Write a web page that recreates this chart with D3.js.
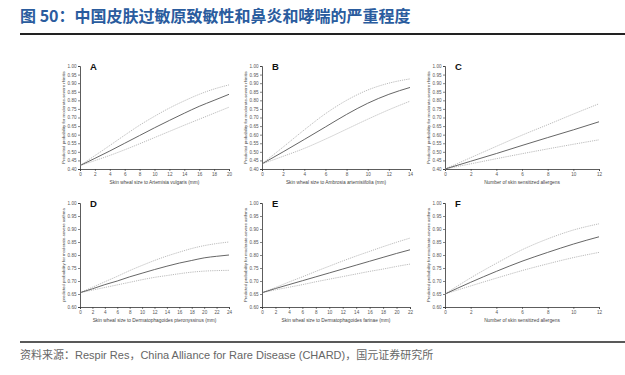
<!DOCTYPE html>
<html>
<head>
<meta charset="utf-8">
<script src="https://cdn.jsdelivr.net/npm/d3@7"></script>
<style>
  body { margin: 0; background: #fff; }
  svg { display: block; }
</style>
</head>
<body>
<div id="chart"></div>
<script>
// 标题与来源
const titleText = "图 50：中国皮肤过敏原致敏性和鼻炎和哮喘的严重程度";
const sourceText = "资料来源：Respir Res，China Alliance for Rare Disease (CHARD)，国元证券研究所";

// 各子图的 x 值
const xA = [0, 2, 4, 6, 8, 10, 12, 14, 16, 18, 20];
const xB = [0, 2, 4, 6, 8, 10, 12, 14];
const xC = [0, 2, 4, 6, 8, 10, 12];
const xD = [0, 2, 4, 6, 8, 10, 12, 14, 16, 18, 20, 22, 24];
const xE = [0, 2, 4, 6, 8, 10, 12, 14, 16, 18, 20, 22];
const xF = [0, 2, 4, 6, 8, 10, 12];

// 预测概率（中线 / 上限 / 下限）
const meanA = [0.42, 0.462, 0.505, 0.55, 0.595, 0.64, 0.683, 0.725, 0.765, 0.80, 0.835];
const upA   = [0.42, 0.478, 0.537, 0.597, 0.655, 0.707, 0.755, 0.797, 0.835, 0.866, 0.89];
const loA   = [0.42, 0.449, 0.479, 0.512, 0.547, 0.583, 0.619, 0.655, 0.69, 0.725, 0.76];

const meanB = [0.43, 0.50, 0.572, 0.645, 0.718, 0.783, 0.835, 0.875];
const upB   = [0.43, 0.528, 0.628, 0.722, 0.80, 0.86, 0.90, 0.925];
const loB   = [0.43, 0.474, 0.52, 0.574, 0.632, 0.69, 0.745, 0.795];

const meanC = [0.40, 0.445, 0.49, 0.537, 0.583, 0.628, 0.675];
const upC   = [0.40, 0.466, 0.532, 0.597, 0.658, 0.72, 0.78];
const loC   = [0.40, 0.43, 0.46, 0.489, 0.517, 0.544, 0.57];

const meanD = [0.655, 0.67, 0.686, 0.70, 0.716, 0.73, 0.744, 0.757, 0.769, 0.779, 0.789, 0.795, 0.80];
const upD   = [0.655, 0.676, 0.697, 0.718, 0.74, 0.76, 0.779, 0.796, 0.811, 0.825, 0.836, 0.844, 0.85];
const loD   = [0.655, 0.665, 0.675, 0.685, 0.695, 0.705, 0.714, 0.721, 0.728, 0.734, 0.738, 0.74, 0.741];

const meanE = [0.655, 0.671, 0.686, 0.701, 0.716, 0.731, 0.746, 0.761, 0.776, 0.791, 0.806, 0.82];
const upE   = [0.655, 0.675, 0.696, 0.716, 0.737, 0.757, 0.777, 0.796, 0.814, 0.832, 0.849, 0.865];
const loE   = [0.655, 0.666, 0.676, 0.686, 0.697, 0.707, 0.717, 0.727, 0.737, 0.746, 0.756, 0.765];

const meanF = [0.65, 0.695, 0.737, 0.776, 0.81, 0.842, 0.87];
const upF   = [0.65, 0.712, 0.768, 0.82, 0.862, 0.896, 0.92];
const loF   = [0.65, 0.681, 0.711, 0.74, 0.766, 0.79, 0.81];

// 轴标签
const xTitles = [
  "Skin wheal size to Artemisia vulgaris (mm)",
  "Skin wheal size to Ambrosia artemisiifolia (mm)",
  "Number of skin sensitized allergens",
  "Skin wheal size to Dermatophagoides pteronyssinus (mm)",
  "Skin wheal size to Dermatophagoides farinae (mm)",
  "Number of skin sensitized allergens"
];
const yTitles = [
  "Predicted probability for moderate-severe rhinitis",
  "Predicted probability for moderate-severe rhinitis",
  "Predicted probability for moderate-severe rhinitis",
  "predicted probability for moderate-severe asthma",
  "Predicted probability for moderate-severe asthma",
  "Predicted probability for moderate-severe asthma"
];
const panelLetters = ["A", "B", "C", "D", "E", "F"];
const yDomainTop = [0.40, 1.00];
const yDomainBottom = [0.60, 1.00];

const panels = [
  { x: xA, mean: meanA, up: upA, lo: loA, xMax: 20, yDom: yDomainTop },
  { x: xB, mean: meanB, up: upB, lo: loB, xMax: 14, yDom: yDomainTop },
  { x: xC, mean: meanC, up: upC, lo: loC, xMax: 12, yDom: yDomainTop },
  { x: xD, mean: meanD, up: upD, lo: loD, xMax: 24, yDom: yDomainBottom },
  { x: xE, mean: meanE, up: upE, lo: loE, xMax: 22, yDom: yDomainBottom },
  { x: xF, mean: meanF, up: upF, lo: loF, xMax: 12, yDom: yDomainBottom }
];

const width = 625, height = 375;
const svg = d3.select("#chart").append("svg")
  .attr("width", width)
  .attr("height", height);

// 标题
svg.append("text")
  .attr("x", 20).attr("y", 22)
  .attr("font-family", "'Noto Sans CJK SC', sans-serif")
  .attr("font-size", 16)
  .attr("font-weight", "bold")
  .attr("fill", "#2a5c9e")
  .text(titleText);
svg.append("line")
  .attr("x1", 20).attr("x2", width).attr("y1", 34).attr("y2", 34)
  .attr("stroke", "#222").attr("stroke-width", 2);

// 子图位置
const cols = [[80, 229], [262, 410], [445, 599]];
const rows = [[66, 169], [203, 307]];

panels.forEach((p, i) => {
  const [x0, x1] = cols[i % 3];
  const [y0, y1] = rows[Math.floor(i / 3)];
  const xScale = d3.scaleLinear().domain([0, p.xMax]).range([x0, x1]);
  const yScale = d3.scaleLinear().domain(p.yDom).range([y1, y0]);
  const g = svg.append("g");

  const yTicks = d3.range(Math.round(p.yDom[0] * 100), 101, 5).map(v => v / 100);
  const xTicks = d3.range(0, p.xMax + 1, 2);

  const yAxis = g.append("g").attr("transform", `translate(${x0},0)`)
    .call(d3.axisLeft(yScale).tickValues(yTicks).tickFormat(d3.format(".2f")).tickSize(2).tickPadding(1.5));
  const xAxis = g.append("g").attr("transform", `translate(0,${y1})`)
    .call(d3.axisBottom(xScale).tickValues(xTicks).tickFormat(d3.format("d")).tickSize(2).tickPadding(1.5));
  [yAxis, xAxis].forEach(ax => {
    ax.selectAll("path").attr("stroke", "#333").attr("stroke-width", 0.8);
    ax.selectAll("line").attr("stroke", "#333").attr("stroke-width", 0.6);
    ax.selectAll("text")
      .attr("font-family", "Arial, 'Liberation Sans', sans-serif")
      .attr("font-size", 4.6)
      .attr("fill", "#555");
  });

  // 轴标题
  g.append("text")
    .attr("x", (x0 + x1) / 2).attr("y", y1 + 15)
    .attr("text-anchor", "middle")
    .attr("font-family", "Arial, 'Liberation Sans', sans-serif")
    .attr("font-size", 4.8).attr("fill", "#444")
    .text(xTitles[i]);
  g.append("text")
    .attr("transform", `translate(${x0 - 15},${(y0 + y1) / 2}) rotate(-90)`)
    .attr("text-anchor", "middle")
    .attr("font-family", "Arial, 'Liberation Sans', sans-serif")
    .attr("font-size", 4.3).attr("fill", "#444")
    .text(yTitles[i]);

  g.append("text")
    .attr("x", x0 + 10).attr("y", y0 + 4)
    .attr("font-family", "Arial, 'Liberation Sans', sans-serif")
    .attr("font-size", 9.5).attr("font-weight", "bold").attr("fill", "#111")
    .text(panelLetters[i]);

  const line = d3.line()
    .x((d, k) => xScale(p.x[k]))
    .y(d => yScale(d))
    .curve(d3.curveMonotoneX);

  [p.up, p.lo].forEach(s => {
    g.append("path").attr("d", line(s))
      .attr("fill", "none").attr("stroke", "#aaa")
      .attr("stroke-width", 0.8).attr("stroke-dasharray", "1.2,1");
  });
  g.append("path").attr("d", line(p.mean))
    .attr("fill", "none").attr("stroke", "#555").attr("stroke-width", 0.9);
});

// 来源
svg.append("line")
  .attr("x1", 20).attr("x2", width).attr("y1", 342).attr("y2", 342)
  .attr("stroke", "#222").attr("stroke-width", 1.5);
svg.append("text")
  .attr("x", 20).attr("y", 359)
  .attr("font-family", "'Liberation Sans', 'Noto Sans CJK SC', sans-serif")
  .attr("font-size", 11).attr("fill", "#666")
  .text(sourceText);
</script>
</body>
</html>
